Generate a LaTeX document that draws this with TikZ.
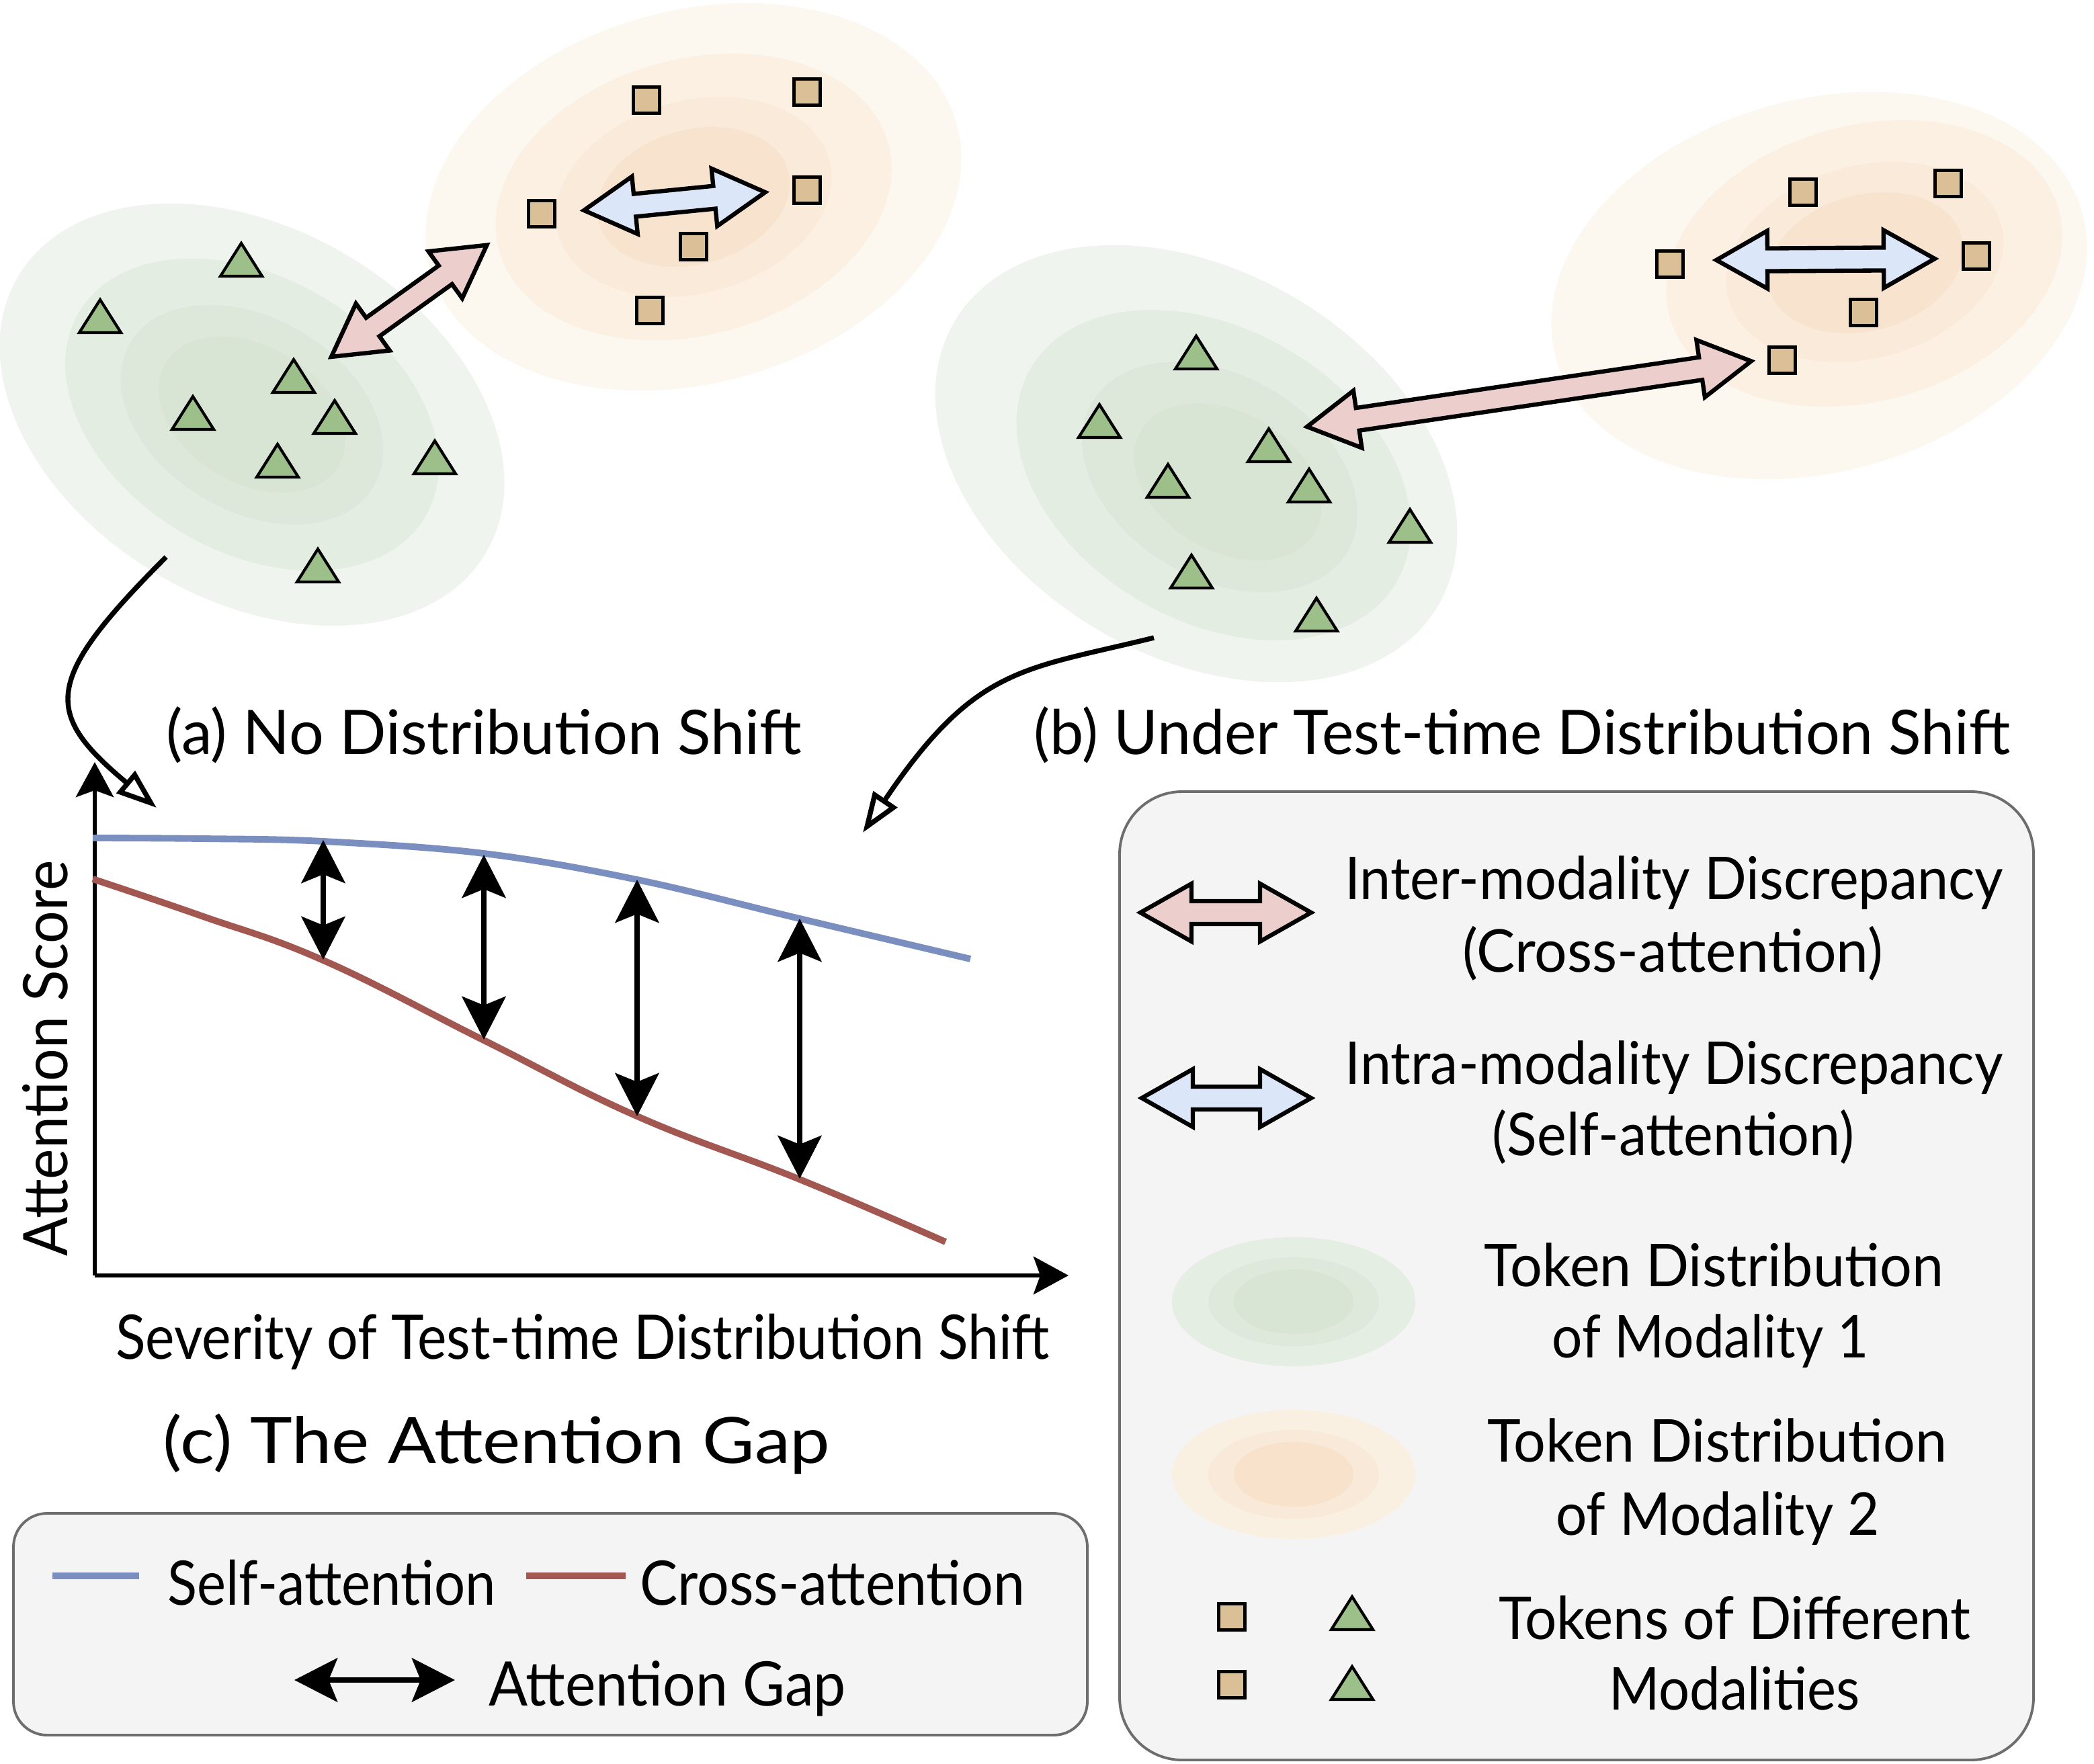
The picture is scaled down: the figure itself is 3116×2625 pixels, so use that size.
\documentclass[tikz,border=0pt]{standalone}
\usepackage{fontspec}
\setmainfont{Lato}
\usetikzlibrary{arrows.meta}
\definecolor{gA}{HTML}{EFF5EE}
\definecolor{gB}{HTML}{E3EDE1}
\definecolor{gC}{HTML}{DDE8DA}
\definecolor{gD}{HTML}{D8E5D4}
\definecolor{oA}{HTML}{FCF7EF}
\definecolor{oB}{HTML}{FBF0E2}
\definecolor{oC}{HTML}{F9EADA}
\definecolor{oD}{HTML}{F8E4CE}
\definecolor{lgA}{HTML}{E5EEE3}
\definecolor{lgB}{HTML}{DEE9DB}
\definecolor{lgC}{HTML}{D8E5D5}
\definecolor{loA}{HTML}{FAF0E2}
\definecolor{loB}{HTML}{F9E9D9}
\definecolor{loC}{HTML}{F8E2CC}
\definecolor{tokO}{HTML}{DBBF96}
\definecolor{tokG}{HTML}{9DC08B}
\definecolor{pinkF}{HTML}{ECCFCD}
\definecolor{blueF}{HTML}{DCE6F9}
\definecolor{selfC}{HTML}{7A8FBF}
\definecolor{crossC}{HTML}{A35751}
\definecolor{boxF}{HTML}{F4F4F4}
\definecolor{boxD}{HTML}{6D6D6D}
\newcommand{\hsq}[2]{\scalebox{#1}[1]{#2}}
\tikzset{
  lbl/.style={font=\fontsize{26}{31}\selectfont, inner sep=0pt, anchor=base},
  legtxt/.style={font=\fontsize{25}{30}\selectfont, inner sep=0pt, anchor=base},
  sq/.style={rectangle, draw=black, line width=1.4pt, fill=tokO, minimum size=0.385cm, inner sep=0pt},
  pics/tri/.style={code={\filldraw[fill=tokG, draw=black, line width=1.2pt, line join=miter] (-31,-24) -- (31,-24) -- (0,25) -- cycle;}},
  pics/dblarr/.style 2 args={code={\filldraw[fill=#2, draw=black, line width=1.8pt, line join=miter]
     (0,0) -- (76,43) -- (76,17) -- ({#1-76},17) -- ({#1-76},43) -- (#1,0) -- ({#1-76},-43) -- ({#1-76},-17) -- (76,-17) -- (76,-43) -- cycle;}},
  gaparr/.style={line width=2.3pt, {Stealth[length=0.64cm,width=0.65cm,inset=0.13cm]}-{Stealth[length=0.64cm,width=0.65cm,inset=0.13cm]}},
  axisarr/.style={line width=1.8pt, -{Stealth[length=0.52cm,width=0.56cm,inset=0.1cm]}},
  curvearr/.style={line width=2.1pt, -{Triangle[open,length=0.6cm,width=0.42cm]}},
  legbox/.style={fill=boxF, draw=boxD, line width=1.1pt},
  selfline/.style={draw=selfC, line width=2.8pt},
  crossline/.style={draw=crossC, line width=2.8pt},
}
\begin{document}
\begin{tikzpicture}[x=0.01cm, y=0.01cm]
\useasboundingbox (0,0) rectangle (3116,-2625);
\fill[white] (0,0) rectangle (3116,-2625);

% ---------- (a) distributions ----------
\begin{scope}[shift={(375,-617)}, rotate=-30.5]
  \fill[gA] (0,0) ellipse[x radius=4.04cm, y radius=2.76cm];
  \fill[gB] (0,0) ellipse[x radius=2.99cm, y radius=2.04cm];
  \fill[gC] (0,0) ellipse[x radius=2.10cm, y radius=1.435cm];
  \fill[gD] (0,0) ellipse[x radius=1.495cm, y radius=1.02cm];
\end{scope}
\begin{scope}[shift={(1032,-293)}, rotate=15.4]
  \fill[oA] (0,0) ellipse[x radius=4.06cm, y radius=2.77cm];
  \fill[oB] (0,0) ellipse[x radius=3.00cm, y radius=2.05cm];
  \fill[oC] (0,0) ellipse[x radius=2.09cm, y radius=1.43cm];
  \fill[oD] (0,0) ellipse[x radius=1.46cm, y radius=1.00cm];
\end{scope}
% ---------- (b) distributions ----------
\begin{scope}[shift={(1780,-690)}, rotate=-30.3]
  \fill[gA] (0,0) ellipse[x radius=4.17cm, y radius=2.87cm];
\end{scope}
\begin{scope}[shift={(1806,-707)}, rotate=-30.3]
  \fill[gB] (0,0) ellipse[x radius=3.15cm, y radius=2.17cm];
\end{scope}
\begin{scope}[shift={(1815,-710)}, rotate=-30.3]
  \fill[gC] (0,0) ellipse[x radius=2.20cm, y radius=1.51cm];
\end{scope}
\begin{scope}[shift={(1827,-717)}, rotate=-30.3]
  \fill[gD] (0,0) ellipse[x radius=1.50cm, y radius=1.03cm];
\end{scope}
\begin{scope}[shift={(2707,-425)}, rotate=15.4]
  \fill[oA] (0,0) ellipse[x radius=4.06cm, y radius=2.77cm];
\end{scope}
\begin{scope}[shift={(2774,-392)}, rotate=15.4]
  \fill[oB] (0,0) ellipse[x radius=3.00cm, y radius=2.05cm];
\end{scope}
\begin{scope}[shift={(2775,-390)}, rotate=15.4]
  \fill[oC] (0,0) ellipse[x radius=2.10cm, y radius=1.43cm];
\end{scope}
\begin{scope}[shift={(2776,-391)}, rotate=15.4]
  \fill[oD] (0,0) ellipse[x radius=1.48cm, y radius=1.01cm];
\end{scope}

% ---------- tokens (a) ----------
\node[sq] (sa1) at (962,-149) {};
\node[sq] (sa2) at (1201,-137) {};
\node[sq] (sa3) at (806,-318) {};
\node[sq] (sa4) at (1201,-283) {};
\node[sq] (sa5) at (1032,-367) {};
\node[sq] (sa6) at (967,-462) {};
\pic at (359,-387) {tri};
\pic at (149,-471) {tri};
\pic at (437,-560) {tri};
\pic at (287,-615) {tri};
\pic at (498,-621) {tri};
\pic at (413,-686) {tri};
\pic at (647,-681) {tri};
\pic at (473,-842) {tri};
% ---------- tokens (b) ----------
\node[sq] (sb1) at (2683,-286) {};
\node[sq] (sb2) at (2899,-273) {};
\node[sq] (sb3) at (2485,-393) {};
\node[sq] (sb4) at (2941,-381) {};
\node[sq] (sb5) at (2773,-465) {};
\node[sq] (sb6) at (2652,-536) {};
\pic at (1780,-525) {tri};
\pic at (1636,-627) {tri};
\pic at (1888,-663) {tri};
\pic at (1738,-716) {tri};
\pic at (1948,-723) {tri};
\pic at (2098,-783) {tri};
\pic at (1773,-851) {tri};
\pic at (1959,-915) {tri};

% ---------- fat double arrows ----------
\pic[rotate=35.7] at (493,-531) {dblarr={285}{pinkF}};
\pic[rotate=5.7] at (869,-313) {dblarr={271}{blueF}};
\pic[rotate=8.4] at (1945,-635) {dblarr={668}{pinkF}};
\pic[rotate=0.35] at (2554,-387) {dblarr={325}{blueF}};

% ---------- curved arrows ----------
\coordinate (ca0) at (247,-829);
\coordinate (ca1) at (233,-1202);
\draw[curvearr] (ca0) .. controls (63,-1013) and (64,-1061) .. (ca1);
\coordinate (cb0) at (1717,-949);
\coordinate (cb1) at (1284,-1239);
\draw[curvearr] (cb0) .. controls (1523,-997) and (1452,-990) .. (cb1);

% ---------- titles ----------
\node[lbl] (tA) at (720,-1122) {(a) No Distribution Shift};
\node[lbl] (tB) at (2265,-1122) {\hsq{0.98}{(b) Under Test-time Distribution Shift}};

% ---------- plot ----------
\coordinate (org) at (141,-1898);
\coordinate (ytip) at (141,-1134);
\coordinate (xtip) at (1590,-1898);
\draw[axisarr] (org) -- (ytip);
\draw[axisarr] (org) -- (xtip);
\draw[selfline] plot[smooth, tension=0.6] coordinates {(138,-1247) (300,-1248) (481,-1252) (720,-1270) (948,-1309) (1190,-1367) (1444,-1427)};
\draw[crossline] plot[smooth, tension=0.7] coordinates {(138,-1308) (300,-1363) (481,-1429) (720,-1548) (948,-1661) (1190,-1755) (1407,-1848)};
\coordinate (g1t) at (481,-1250); \coordinate (g1b) at (481,-1428);
\coordinate (g2t) at (720,-1272); \coordinate (g2b) at (720,-1547);
\coordinate (g3t) at (948,-1309); \coordinate (g3b) at (948,-1661);
\coordinate (g4t) at (1190,-1367); \coordinate (g4b) at (1190,-1754);
\draw[gaparr] (g1t) -- (g1b);
\draw[gaparr] (g2t) -- (g2b);
\draw[gaparr] (g3t) -- (g3b);
\draw[gaparr] (g4t) -- (g4b);
\node[lbl, rotate=90] (yl) at (100,-1575) {\hsq{0.94}{Attention Score}};
\node[lbl] (xl) at (867,-2022) {\hsq{0.90}{Severity of Test-time Distribution Shift}};
\node[lbl, font=\fontsize{27}{32}\selectfont] (tC) at (739,-2177) {\hsq{1.12}{(c) The Attention Gap}};

% ---------- bottom-left legend ----------
\draw[legbox, rounded corners=0.5cm] (20,-2252) rectangle (1618,-2582);
\draw[selfline] (78,-2345) -- (207,-2345);
\draw[crossline] (783,-2345) -- (931,-2345);
\node[lbl] (ls) at (494,-2388) {\hsq{0.89}{Self-attention}};
\node[lbl] (lc) at (1239,-2388) {\hsq{0.92}{Cross-attention}};
\coordinate (lgl) at (438,-2500);
\coordinate (lgr) at (677,-2500);
\draw[gaparr] (lgl) -- (lgr);
\node[lbl] (lg) at (993,-2538) {\hsq{0.94}{Attention Gap}};

% ---------- right legend ----------
\draw[legbox, rounded corners=0.93cm] (1666,-1178) rectangle (3026,-2619);
\pic at (1697,-1358) {dblarr={254}{pinkF}};
\pic at (1699,-1634) {dblarr={252}{blueF}};
\node[legtxt] (r1a) at (2491,-1338) {\hsq{0.94}{Inter-modality Discrepancy}};
\node[legtxt] (r1b) at (2489,-1446) {\hsq{0.975}{(Cross-attention)}};
\node[legtxt] (r2a) at (2491,-1613) {\hsq{0.94}{Intra-modality Discrepancy}};
\node[legtxt] (r2b) at (2490,-1719) {\hsq{0.94}{(Self-attention)}};
\fill[lgA] (1925,-1937) ellipse[x radius=1.81cm, y radius=0.96cm];
\fill[lgB] (1925,-1937) ellipse[x radius=1.27cm, y radius=0.66cm];
\fill[lgC] (1925,-1937) ellipse[x radius=0.89cm, y radius=0.48cm];
\fill[loA] (1925,-2194) ellipse[x radius=1.81cm, y radius=0.96cm];
\fill[loB] (1925,-2194) ellipse[x radius=1.27cm, y radius=0.66cm];
\fill[loC] (1925,-2194) ellipse[x radius=0.89cm, y radius=0.48cm];
\node[legtxt] (r3a) at (2550,-1914) {\hsq{0.96}{Token Distribution}};
\node[legtxt] (r3b) at (2545,-2020) {\hsq{0.91}{of Modality 1}};
\node[legtxt] (r4a) at (2555,-2175) {\hsq{0.96}{Token Distribution}};
\node[legtxt] (r4b) at (2556,-2284) {\hsq{0.93}{of Modality 2}};
\node[sq] (lsq1) at (1833,-2406) {};
\node[sq] (lsq2) at (1833,-2507) {};
\pic at (2012,-2401) {tri};
\pic at (2012,-2505) {tri};
\node[legtxt] (r5a) at (2581,-2439) {\hsq{0.95}{Tokens of Different}};
\node[legtxt] (r5b) at (2581,-2544) {\hsq{0.925}{Modalities}};
\end{tikzpicture}
\end{document}
